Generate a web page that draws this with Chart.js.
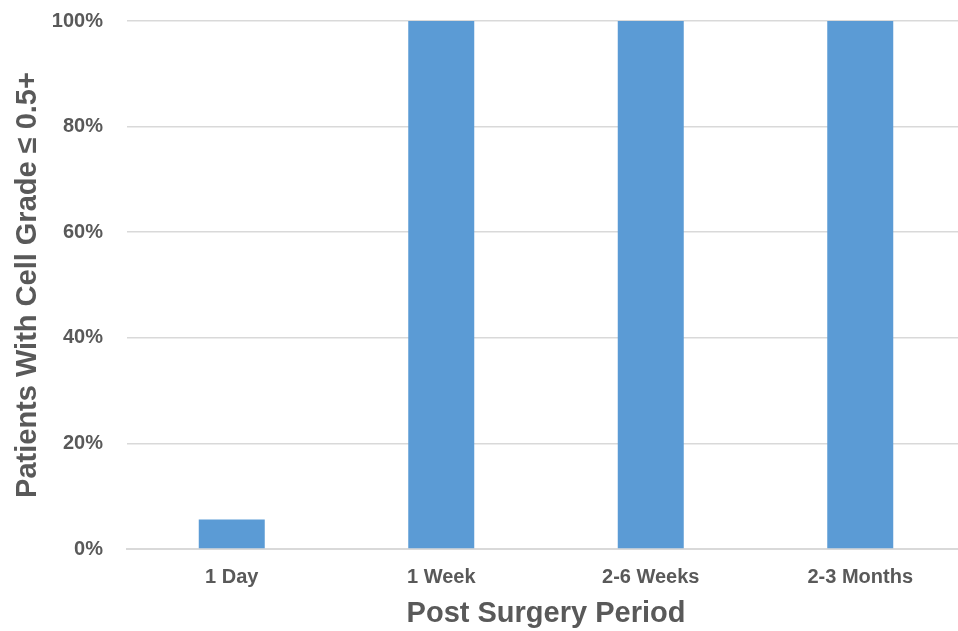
<!DOCTYPE html>
<html>
<head>
<meta charset="utf-8">
<script src="https://cdn.jsdelivr.net/npm/chart.js@4/dist/chart.umd.min.js"></script>
<style>
  html, body { margin: 0; padding: 0; background: #ffffff; overflow: hidden; width: 958px; height: 631px; }
  #wrap { position: absolute; left: 0; top: 0; width: 966px; height: 631px; }
</style>
</head>
<body>
<div id="wrap"><canvas id="c" width="966" height="631"></canvas></div>
<script>
// Share of patients with cell grade ≤ 0.5+ at each follow-up period
const periods = ['1 Day', '1 Week', '2-6 Weeks', '2-3 Months'];
const shareOfPatients = [5.6, 100, 100, 100];
const yTicks = [0, 20, 40, 60, 80, 100];

const textColor = '#595959';
const gridColor = '#d9d9d9';
const barColor = '#5b9bd5';
const fontFamily = '"Liberation Sans", Arial, sans-serif';

new Chart(document.getElementById('c'), {
  type: 'bar',
  data: {
    labels: periods,
    datasets: [{
      data: shareOfPatients,
      backgroundColor: barColor,
      borderWidth: 0,
      barPercentage: 1,
      categoryPercentage: 0.315
    }]
  },
  options: {
    responsive: false,
    devicePixelRatio: 1,
    animation: false,
    layout: { padding: { top: 21, right: 1, left: 0, bottom: 0 } },
    plugins: { legend: { display: false }, tooltip: { enabled: false } },
    scales: {
      x: {
        grid: { display: false, drawTicks: false },
        border: { display: true, color: gridColor, width: 2 },
        ticks: {
          color: textColor,
          padding: 16,
          font: { family: fontFamily, size: 20, weight: 'bold' }
        },
        title: {
          display: true,
          text: 'Post Surgery Period',
          color: textColor,
          padding: { top: 0, bottom: 0 },
          font: { family: fontFamily, size: 29, weight: 'bold', lineHeight: 1.15 }
        },
        afterFit: (s) => { s.height = 82; }
      },
      y: {
        min: 0,
        max: 100,
        afterBuildTicks: (s) => { s.ticks = yTicks.map(v => ({ value: v })); },
        grid: { color: gridColor, lineWidth: 1.5, drawTicks: true, tickLength: 22, tickColor: 'rgba(0,0,0,0)' },
        border: { display: false },
        ticks: {
          color: textColor,
          padding: 2,
          font: { family: fontFamily, size: 20, weight: 'bold' },
          callback: (v) => v + '%'
        },
        title: {
          display: true,
          text: 'Patients With Cell Grade ≤ 0.5+',
          color: textColor,
          padding: { top: 11, bottom: 0 },
          font: { family: fontFamily, size: 29, weight: 'bold', lineHeight: 1.15 }
        },
        afterFit: (s) => { s.width = 127; }
      }
    }
  }
});
</script>
</body>
</html>
